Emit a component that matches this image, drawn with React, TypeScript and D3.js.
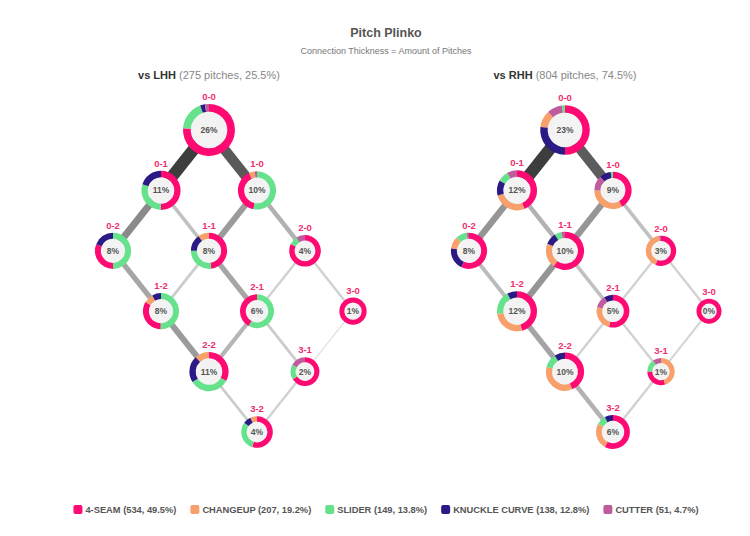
import React, { useEffect, useRef } from 'react';
import * as d3 from 'd3';

const pitchTypes = ['4-SEAM', 'CHANGEUP', 'SLIDER', 'KNUCKLE CURVE', 'CUTTER'];
const pitchTotals = [534, 207, 149, 138, 51];
const pitchShares = [49.5, 19.2, 13.8, 12.8, 4.7];
const pitchColors = ['#ff0a73', '#f7a06c', '#66e28c', '#2b1a86', '#c05c9e'];

// counts are "balls-strikes"
const countLabels = ['0-0', '0-1', '1-0', '0-2', '1-1', '2-0', '1-2', '2-1', '3-0', '2-2', '3-1', '3-2'];
const lhhShare = [26, 11, 10, 8, 8, 4, 8, 6, 1, 11, 2, 4];
const rhhShare = [23, 12, 9, 8, 10, 3, 12, 5, 0, 10, 1, 6];

// pitch mix per count, % of pitches: 4-seam, changeup, slider, knuckle curve, cutter
const lhhMix = [
  [76, 0, 18.5, 3, 2.5],
  [50, 0, 30, 20, 0],
  [40, 5, 53, 0, 2],
  [31, 0, 50, 19, 0],
  [48, 10, 27, 15, 0],
  [82, 0, 9, 0, 9],
  [33, 8.5, 50, 8, 0],
  [42, 0, 58, 0, 0],
  [100, 0, 0, 0, 0],
  [33, 12, 33, 22, 0],
  [66, 0, 17, 0, 17],
  [55, 7, 30, 8, 0],
];
const rhhMix = [
  [50, 11, 2, 27, 10],
  [44, 27, 9, 12, 8],
  [42, 33, 2, 10, 13],
  [57, 11, 10, 20, 2],
  [60, 21, 6, 10, 3],
  [56, 42, 0, 0, 2],
  [46, 27, 19, 8, 0],
  [54, 25, 0, 9, 12],
  [100, 0, 0, 0, 0],
  [44, 35, 12, 9, 0],
  [30, 45, 15, 0, 10],
  [58, 25, 9, 8, 0],
];

// connections between counts and the pitches thrown along them
const edgeFrom = ['0-0', '0-0', '0-1', '0-1', '1-0', '1-0', '0-2', '1-1', '1-1', '2-0', '2-0', '1-2', '2-1', '2-1', '3-0', '2-2', '3-1'];
const edgeTo = ['0-1', '1-0', '0-2', '1-1', '1-1', '2-0', '1-2', '1-2', '2-1', '2-1', '3-0', '2-2', '2-2', '3-1', '3-1', '3-2', '3-2'];
const lhhEdgePitches = [31, 26, 17, 7, 14, 10, 12, 5, 12, 4, 4, 14, 9, 5, 1, 5, 4];
const rhhEdgePitches = [95, 78, 46, 30, 46, 22, 25, 46, 22, 12, 12, 38, 12, 12, 10, 30, 12];

const FONT = '"Liberation Sans", Arial, Helvetica, sans-serif';

const App = () => {
  const svgRef = useRef<SVGSVGElement | null>(null);

  useEffect(() => {
    const svg = d3.select(svgRef.current);
    svg.selectAll('*').remove();

    const centerX = 386;

    svg.append('text')
      .attr('x', centerX)
      .attr('y', 37)
      .attr('text-anchor', 'middle')
      .style('font-size', '12.5px')
      .style('font-weight', 'bold')
      .style('fill', '#555')
      .text('Pitch Plinko');

    svg.append('text')
      .attr('x', centerX)
      .attr('y', 54)
      .attr('text-anchor', 'middle')
      .style('font-size', '9px')
      .style('fill', '#777')
      .text('Connection Thickness = Amount of Pitches');

    const panels = [
      { title: 'vs LHH', sub: ' (275 pitches, 25.5%)', cx: 209, share: lhhShare, mix: lhhMix, edges: lhhEdgePitches },
      { title: 'vs RHH', sub: ' (804 pitches, 74.5%)', cx: 565, share: rhhShare, mix: rhhMix, edges: rhhEdgePitches },
    ];

    const yScale = d3.scaleLinear().domain([0, 5]).range([130, 432]);
    const rScale = d3.scalePow().exponent(0.75).domain([0, 26]).range([12.5, 26]);
    const pie = d3.pie<number>(); // default sort = descending, starts at 12 o'clock

    panels.forEach(p => {
      const g = svg.append('g');
      const xScale = d3.scaleLinear().domain([-2, 3]).range([p.cx - 96, p.cx + 144]);

      const t = g.append('text')
        .attr('x', p.cx)
        .attr('y', 79)
        .attr('text-anchor', 'middle')
        .style('font-size', '11px');
      t.append('tspan').style('font-weight', 'bold').style('fill', '#333').text(p.title);
      t.append('tspan').style('fill', '#888').text(p.sub);

      const pos = (label: string) => {
        const [b, s] = label.split('-').map(Number);
        return { x: xScale(b - s), y: yScale(b + s) };
      };

      const maxEdge = d3.max(p.edges) as number;
      const wScale = d3.scaleLinear().domain([0, maxEdge]).range([1, 12]);
      const cScale = d3.scaleLinear<string>().domain([0, maxEdge]).range(['#e8e8e8', '#3d3d3d']);

      g.append('g').selectAll('line')
        .data(p.edges)
        .enter().append('line')
        .attr('x1', (d, i) => pos(edgeFrom[i]).x)
        .attr('y1', (d, i) => pos(edgeFrom[i]).y)
        .attr('x2', (d, i) => pos(edgeTo[i]).x)
        .attr('y2', (d, i) => pos(edgeTo[i]).y)
        .attr('stroke', d => cScale(d))
        .attr('stroke-width', d => wScale(d));

      countLabels.forEach((label, i) => {
        const { x, y } = pos(label);
        const r = rScale(p.share[i]);
        const ring = 2 + r * 0.22;
        const node = g.append('g').attr('transform', `translate(${x},${y})`);
        const arc = d3.arc<d3.PieArcDatum<number>>().innerRadius(r - ring).outerRadius(r);

        node.append('circle')
          .attr('r', r - ring)
          .attr('fill', '#f3f3f3');

        // pie() returns arcs in data order, so j is the pitch type
        node.selectAll('path')
          .data(pie(p.mix[i]))
          .enter().append('path')
          .attr('d', arc)
          .attr('fill', (d, j) => pitchColors[j]);

        node.append('text')
          .attr('y', 0)
          .attr('dy', '0.35em')
          .attr('text-anchor', 'middle')
          .style('font-size', '8.5px')
          .style('font-weight', 'bold')
          .style('fill', '#555')
          .text(`${p.share[i]}%`);

        node.append('text')
          .attr('y', -r - 4)
          .attr('text-anchor', 'middle')
          .style('font-size', '9.5px')
          .style('font-weight', 'bold')
          .style('fill', '#ef2d6e')
          .text(label);
      });
    });

    // legend
    const legend = svg.append('g');
    let offset = 0;
    pitchTypes.forEach((name, i) => {
      const item = legend.append('g').attr('transform', `translate(${offset},0)`);
      item.append('rect')
        .attr('x', 0)
        .attr('y', -8)
        .attr('width', 9)
        .attr('height', 9)
        .attr('rx', 2)
        .attr('fill', pitchColors[i]);
      const txt = item.append('text')
        .attr('x', 12)
        .attr('y', 0)
        .style('font-size', '9.3px')
        .style('font-weight', 'bold')
        .style('fill', '#555')
        .text(`${name} (${pitchTotals[i]}, ${pitchShares[i]}%)`);
      const len = (txt.node() as SVGTextElement).getComputedTextLength();
      offset += 12 + len + 14;
    });
    const total = offset - 14;
    legend.attr('transform', `translate(${centerX - total / 2}, 513)`);
  }, []);

  return (
    <svg
      ref={svgRef}
      width={750}
      height={536}
      style={{ position: 'absolute', left: 0, top: 0, fontFamily: FONT, background: '#fff' }}
    />
  );
};

export default App;
